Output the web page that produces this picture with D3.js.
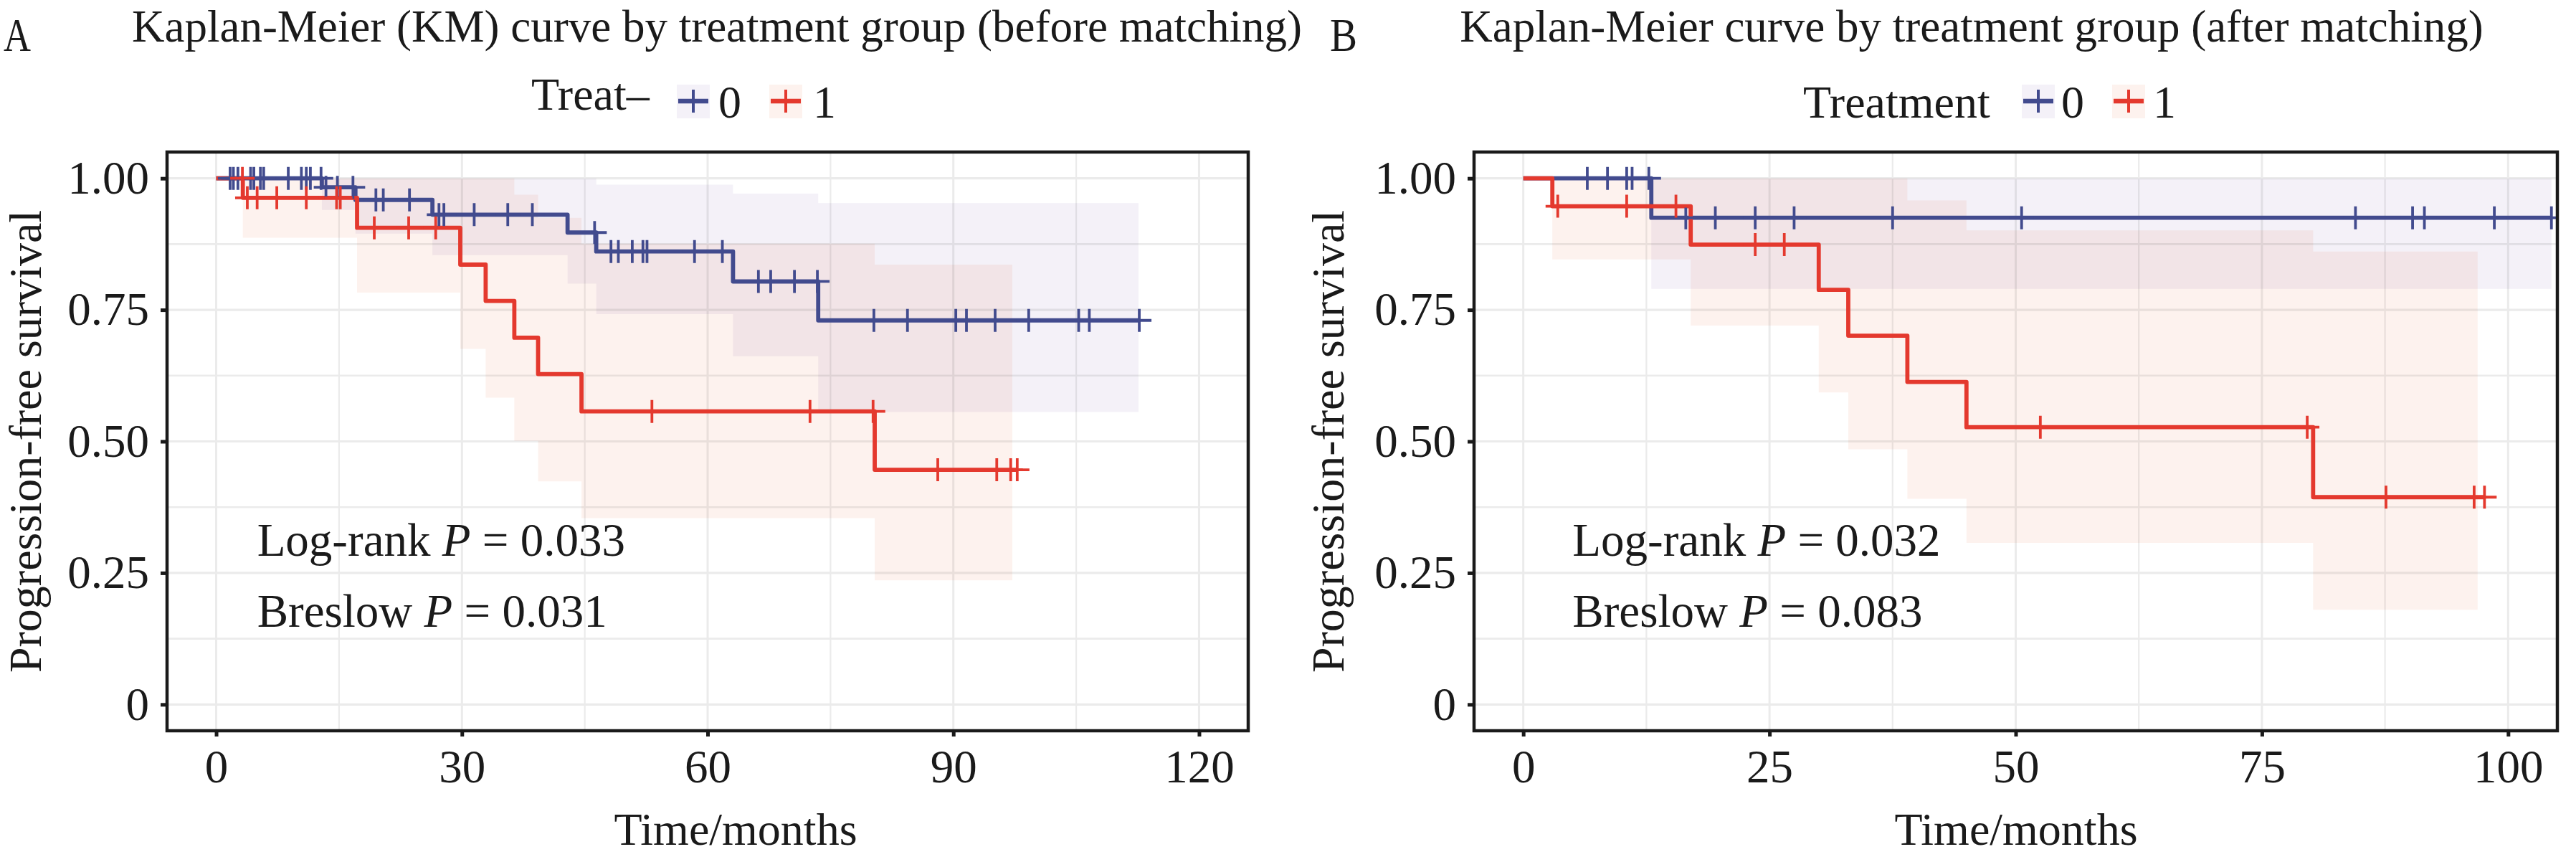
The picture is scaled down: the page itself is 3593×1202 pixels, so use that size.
<!DOCTYPE html>
<html>
<head>
<meta charset="utf-8">
<script src="https://cdn.jsdelivr.net/npm/d3@7/dist/d3.min.js"></script>
<style>
  html, body { margin: 0; padding: 0; background: #fff; }
  svg text { font-family: "Liberation Serif", "Times New Roman", serif; fill: #1a1a1a; }
</style>
</head>
<body>
<svg id="chart" width="3593" height="1202"></svg>
<script>
'use strict';

// ---- data ----
var survTicks = [0, 0.25, 0.5, 0.75, 1];
var survTickLabels = ['0', '0.25', '0.50', '0.75', '1.00'];
var survMinor = [0.125, 0.375, 0.625, 0.875];

var timeTicksA = [0, 30, 60, 90, 120];
var timeMinorA = [15, 45, 75, 105];
var timeTicksB = [0, 25, 50, 75, 100];
var timeMinorB = [12.5, 37.5, 62.5, 87.5];

var groups = ['0', '1'];

// panel A, treat 0 (before matching)
var a0Time = [0, 12.9, 17.0, 26.4, 42.9, 46.4, 63.1, 73.5];
var a0Surv = [1, 0.983, 0.959, 0.931, 0.897, 0.861, 0.804, 0.730];
var a0Upper = [1, 1, 1, 1, 1, 0.988, 0.971, 0.953];
var a0Lower = [1, 0.940, 0.895, 0.854, 0.800, 0.742, 0.662, 0.556];
var a0End = 112.7;
var a0Censor = [1.7, 2.1, 2.65, 4.2, 4.6, 5.4, 5.8, 8.8, 10.4, 11.0, 11.5, 12.8, 13.4, 14.8, 16.7,
  19.5, 20.4, 23.6, 27.2, 27.8, 31.5, 35.6, 38.6, 46.2, 48.2, 49.1, 50.8, 52.1, 52.6, 58.4, 61.8,
  66.2, 67.7, 70.6, 73.4, 80.3, 84.4, 90.3, 91.6, 95.1, 99.2, 105.3, 106.6, 112.7];

// panel A, treat 1
var a1Time = [0, 3.25, 17.2, 29.8, 32.9, 36.4, 39.3, 44.6, 80.4];
var a1Surv = [1, 0.963, 0.906, 0.836, 0.767, 0.697, 0.628, 0.557, 0.446];
var a1Upper = [1, 1, 1, 1, 1, 0.969, 0.925, 0.876, 0.836];
var a1Lower = [1, 0.887, 0.783, 0.676, 0.583, 0.501, 0.424, 0.354, 0.236];
var a1End = 97.8;
var a1Censor = [3.2, 3.8, 5.0, 7.4, 11.0, 14.7, 15.15, 19.3, 23.5, 26.8, 53.2, 72.5, 80.2, 88.1, 95.3, 97.0, 97.8];

// panel B, treatment 0 (after matching)
var b0Time = [0, 13.0];
var b0Surv = [1, 0.925];
var b0Upper = [1, 1];
var b0Lower = [1, 0.790];
var b0End = 104.4;
var b0Censor = [6.5, 8.55, 10.5, 11.05, 12.75, 16.5, 19.5, 23.55, 27.5, 37.5, 50.6, 84.5, 90.3, 91.5, 98.6, 104.4];

// panel B, treatment 1
var b1Time = [0, 2.95, 17.0, 30.0, 33.0, 39.0, 45.0, 80.2];
var b1Surv = [1, 0.947, 0.874, 0.788, 0.701, 0.613, 0.527, 0.394];
var b1Upper = [1, 1, 1, 1, 1, 0.958, 0.901, 0.861];
var b1Lower = [1, 0.846, 0.720, 0.593, 0.485, 0.391, 0.307, 0.180];
var b1End = 97.6;
var b1Censor = [3.5, 10.5, 15.5, 23.55, 26.5, 52.5, 79.6, 87.6, 96.55, 97.6];

var pValuesA = ['0.033', '0.031'];
var pValuesB = ['0.032', '0.083'];
var testNames = ['Log-rank', 'Breslow'];

(function () {
  // ---- styling ----
  var lineColors = ['#424B8E', '#E4392E'];
  var fillColors = ['#F4F1F8', '#FDF2EE'];
  var ink = '#1a1a1a';
  var gridColor = '#EBEBEB';
  var panelTop = 212, panelBottom = 1019;

  var svg = d3.select('#chart');
  svg.append('rect').attr('width', 3593).attr('height', 1202).attr('fill', '#fff');

  var panels = [
    {
      id: 'A', letterX: 5, title: 'Kaplan-Meier (KM) curve by treatment group (before matching)', titleX: 1000,
      left: 233, right: 1741, xDomain: [-6, 126], ticks: timeTicksA, minor: timeMinorA,
      legendTitle: 'Treat\u2013', legendTitleX: 741, legendTitleY: 153, keyX: [944, 1073], labelX: [1002, 1134],
      yTitleX: 57, xTitleX: 1026, pValues: pValuesA,
      series: [
        { time: a0Time, surv: a0Surv, upper: a0Upper, lower: a0Lower, end: a0End, ribbonEnd: 112.6, censor: a0Censor },
        { time: a1Time, surv: a1Surv, upper: a1Upper, lower: a1Lower, end: a1End, ribbonEnd: 97.2, censor: a1Censor }
      ]
    },
    {
      id: 'B', letterX: 1855, title: 'Kaplan-Meier curve by treatment group (after matching)', titleX: 2750,
      left: 2056, right: 3567, xDomain: [-5, 105], ticks: timeTicksB, minor: timeMinorB,
      legendTitle: 'Treatment', legendTitleX: 2515, legendTitleY: 164, keyX: [2820, 2946], labelX: [2875, 3003],
      yTitleX: 1874, xTitleX: 2812, pValues: pValuesB,
      series: [
        { time: b0Time, surv: b0Surv, upper: b0Upper, lower: b0Lower, end: b0End, ribbonEnd: b0End, censor: b0Censor },
        { time: b1Time, surv: b1Surv, upper: b1Upper, lower: b1Lower, end: b1End, ribbonEnd: 96.9, censor: b1Censor }
      ]
    }
  ];

  function survAt(s, t) {
    var v = s.surv[0];
    for (var i = 0; i < s.time.length; i++) {
      if (s.time[i] <= t) v = s.surv[i];
    }
    return v;
  }

  function drawPanel(p) {
    var x = d3.scaleLinear().domain(p.xDomain).range([p.left, p.right]);
    var y = d3.scaleLinear().domain([-0.05, 1.05]).range([panelBottom, panelTop]);
    var g = svg.append('g').attr('class', 'panel-' + p.id);

    // panel letter + title
    g.append('text').text(p.id)
      .attr('x', p.letterX).attr('y', 71)
      .attr('font-size', 66)
      .attr('textLength', 38).attr('lengthAdjust', 'spacingAndGlyphs');
    g.append('text').text(p.title)
      .attr('x', p.titleX).attr('y', 58)
      .attr('font-size', 63)
      .attr('text-anchor', 'middle');

    // legend
    g.append('text').text(p.legendTitle)
      .attr('x', p.legendTitleX).attr('y', p.legendTitleY)
      .attr('font-size', 64);
    groups.forEach(function (grp, i) {
      var kx = p.keyX[i];
      g.append('rect')
        .attr('x', kx).attr('y', 118).attr('width', 46).attr('height', 47)
        .attr('fill', fillColors[i]);
      g.append('line')
        .attr('x1', kx + 2).attr('x2', kx + 44).attr('y1', 141).attr('y2', 141)
        .attr('stroke', lineColors[i]).attr('stroke-width', 6.5);
      g.append('line')
        .attr('x1', kx + 23).attr('x2', kx + 23).attr('y1', 125).attr('y2', 157)
        .attr('stroke', lineColors[i]).attr('stroke-width', 4);
      g.append('text').text(grp)
        .attr('x', p.labelX[i]).attr('y', 164)
        .attr('font-size', 64);
    });

    // clip to panel
    var clipId = 'clip-' + p.id;
    svg.append('clipPath').attr('id', clipId)
      .append('rect')
      .attr('x', p.left).attr('y', panelTop)
      .attr('width', p.right - p.left).attr('height', panelBottom - panelTop);

    var plot = g.append('g').attr('clip-path', 'url(#' + clipId + ')');

    // gridlines
    plot.append('g').selectAll('line')
      .data(p.ticks.concat(p.minor))
      .enter().append('line')
      .attr('x1', function (d) { return x(d); })
      .attr('x2', function (d) { return x(d); })
      .attr('y1', panelTop).attr('y2', panelBottom)
      .attr('stroke', gridColor)
      .attr('stroke-width', function (d) { return p.ticks.indexOf(d) >= 0 ? 3 : 2.2; });
    plot.append('g').selectAll('line')
      .data(survTicks.concat(survMinor))
      .enter().append('line')
      .attr('y1', function (d) { return y(d); })
      .attr('y2', function (d) { return y(d); })
      .attr('x1', p.left).attr('x2', p.right)
      .attr('stroke', gridColor)
      .attr('stroke-width', function (d) { return survTicks.indexOf(d) >= 0 ? 3.2 : 2.6; });

    // confidence ribbons
    var area = d3.area()
      .curve(d3.curveStepAfter)
      .x(function (d) { return x(d.t); })
      .y0(function (d) { return y(d.lo); })
      .y1(function (d) { return y(d.hi); });

    p.series.forEach(function (s, i) {
      var pts = s.time.map(function (t, k) {
        return { t: t, lo: s.lower[k], hi: s.upper[k] };
      });
      var last = pts[pts.length - 1];
      pts.push({ t: s.ribbonEnd, lo: last.lo, hi: last.hi });
      plot.append('path')
        .datum(pts)
        .attr('d', area)
        .attr('fill', fillColors[i])
        .style('mix-blend-mode', 'multiply');
    });

    // survival curves
    var line = d3.line()
      .curve(d3.curveStepAfter)
      .x(function (d) { return x(d[0]); })
      .y(function (d) { return y(d[1]); });

    p.series.forEach(function (s, i) {
      var pts = s.time.map(function (t, k) { return [t, s.surv[k]]; });
      pts.push([s.end, s.surv[s.surv.length - 1]]);
      plot.append('path')
        .datum(pts)
        .attr('d', line)
        .attr('fill', 'none')
        .attr('stroke', lineColors[i])
        .attr('stroke-width', 5.8)
        .attr('stroke-linejoin', 'round');
    });

    // censor marks (+)
    p.series.forEach(function (s, i) {
      plot.append('g').selectAll('path')
        .data(s.censor)
        .enter().append('path')
        .attr('d', function (t) {
          var cx = x(t), cy = y(survAt(s, t));
          return 'M' + (cx - 17) + ',' + cy + 'H' + (cx + 17) + 'M' + cx + ',' + (cy - 16) + 'V' + (cy + 16);
        })
        .attr('stroke', lineColors[i])
        .attr('stroke-width', 3.8)
        .attr('fill', 'none');
    });

    // test annotations
    var annY = [0.282, 0.147];
    testNames.forEach(function (name, k) {
      var t = g.append('text')
        .attr('x', x(5)).attr('y', y(annY[k]))
        .attr('font-size', 65);
      t.append('tspan').text(name + ' ');
      t.append('tspan').text('P').attr('font-style', 'italic');
      t.append('tspan').text(' = ' + p.pValues[k]);
    });

    // border
    g.append('rect')
      .attr('x', p.left).attr('y', panelTop)
      .attr('width', p.right - p.left).attr('height', panelBottom - panelTop)
      .attr('fill', 'none')
      .attr('stroke', ink)
      .attr('stroke-width', 4.5);

    // axes
    var yAxis = d3.axisLeft(y)
      .tickValues(survTicks)
      .tickFormat(function (d, i) { return survTickLabels[i]; })
      .tickSize(9)
      .tickPadding(16);
    var ya = g.append('g').attr('transform', 'translate(' + p.left + ',0)').call(yAxis);

    var xAxis = d3.axisBottom(x)
      .tickValues(p.ticks)
      .tickFormat(d3.format('d'))
      .tickSize(8)
      .tickPadding(18);
    var xa = g.append('g').attr('transform', 'translate(0,' + panelBottom + ')').call(xAxis);

    [ya, xa].forEach(function (ax) {
      ax.select('.domain').remove();
      ax.selectAll('.tick line').attr('stroke', ink).attr('stroke-width', 5);
      ax.selectAll('.tick text')
        .attr('font-size', 65)
        .attr('font-family', '"Liberation Serif", "Times New Roman", serif')
        .attr('fill', ink);
    });

    // axis titles
    g.append('text').text('Time/months')
      .attr('x', p.xTitleX).attr('y', 1178)
      .attr('font-size', 64)
      .attr('text-anchor', 'middle');
    g.append('text').text('Progression-free survival')
      .attr('transform', 'translate(' + p.yTitleX + ',' + ((panelTop + panelBottom) / 2) + ') rotate(-90)')
      .attr('font-size', 64)
      .attr('text-anchor', 'middle');
  }

  panels.forEach(drawPanel);
})();
</script>
</body>
</html>
